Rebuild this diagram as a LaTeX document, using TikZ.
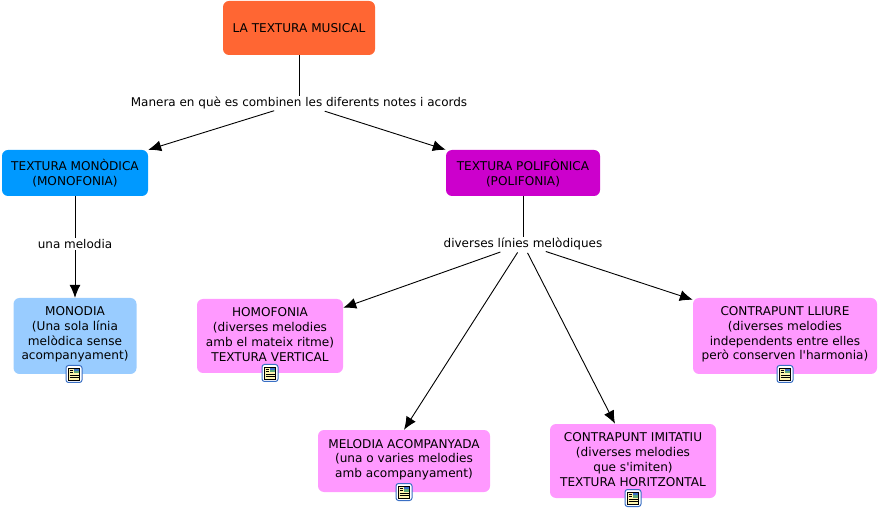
\documentclass[tikz,border=0pt]{standalone}
\usepackage{fontspec}
\setmainfont{DejaVu Sans}
\usetikzlibrary{arrows.meta}

\definecolor{rootorange}{HTML}{FF6633}
\definecolor{monoblue}{HTML}{0099FF}
\definecolor{poliviolet}{HTML}{CC00CC}
\definecolor{paleblue}{HTML}{99CCFF}
\definecolor{palepink}{HTML}{FF99FF}
\definecolor{iconblue}{HTML}{3A6FC4}
\definecolor{iconyellow}{HTML}{FFF6B0}
\definecolor{icongreen}{HTML}{5FA87A}

\newcommand{\lowstrut}[1]{\rule[-#1]{0pt}{#1}}

\begin{document}
\begin{tikzpicture}[x=1pt, y=-1pt,
    concept/.style={rounded corners=6pt, align=center, inner sep=0pt, font=\fontsize{12.1}{14.7}\selectfont},
    phrase/.style={fill=white, inner xsep=0pt, inner ysep=1pt, font=\fontsize{12}{14.7}\selectfont},
    link/.style={draw=black, line width=0.9pt},
    linkto/.style={link, -{Latex[length=13pt, width=11pt]}}]
    \useasboundingbox (0,0) rectangle (878,510);

    % Root
    \node[concept, fill=rootorange, minimum width=152pt, minimum height=54pt] (root) at (299,28) {LA TEXTURA MUSICAL};
    \node[phrase] (manera) at (299,103) {Manera en què es combinen les diferents notes i acords};

    % Textures
    \node[concept, fill=monoblue, minimum width=146pt, minimum height=46pt] (monodica) at (75,173) {TEXTURA MONÒDICA\\(MONOFONIA)};
    \node[concept, fill=poliviolet, minimum width=154pt, minimum height=46pt] (polifonica) at (523,173) {TEXTURA POLIFÒNICA\\(POLIFONIA)};
    \node[phrase] (unamelodia) at (75,244) {una melodia};
    \node[phrase] (diverses) at (523,244) {diverses línies melòdiques};

    % Leaves
    \node[concept, fill=paleblue, minimum width=123pt, minimum height=76pt] (monodia) at (75,336) {MONODIA\\(Una sola línia\\melòdica sense\\acompanyament)\lowstrut{5.5pt}};
    \node[concept, fill=palepink, minimum width=146pt, minimum height=74pt] (homofonia) at (270,336) {HOMOFONIA\\(diverses melodies\\amb el mateix ritme)\\TEXTURA VERTICAL\lowstrut{3pt}};
    \node[concept, fill=palepink, minimum width=172pt, minimum height=62pt] (acompanyada) at (404,461) {MELODIA ACOMPANYADA\\(una o varies melodies\\amb acompanyament)\lowstrut{5.5pt}};
    \node[concept, fill=palepink, minimum width=166pt, minimum height=74pt] (imitatiu) at (633,461) {CONTRAPUNT IMITATIU\\(diverses melodies\\que s\textquotesingle imiten)\\TEXTURA HORITZONTAL\lowstrut{3pt}};
    \node[concept, fill=palepink, minimum width=184pt, minimum height=76pt] (lliure) at (785,336) {CONTRAPUNT LLIURE\\(diverses melodies\\independents entre elles\\però conserven l\textquotesingle harmonia)\lowstrut{5.5pt}};

    % Connectors
    \draw[link] (root) -- (manera);
    \draw[linkto, shorten <=26pt] (manera.center) -- (monodica.north east);
    \draw[linkto, shorten <=27pt] (manera.center) -- (polifonica.north west);
    \draw[link] (monodica) -- (unamelodia);
    \draw[linkto] (unamelodia) -- (monodia);
    \draw[link] (polifonica) -- (diverses);
    \draw[linkto, shorten <=24pt] (diverses.center) -- ([yshift=-9pt]homofonia.north east);
    \draw[linkto, shorten <=10pt] (diverses.center) -- (acompanyada.north);
    \draw[linkto, shorten <=10pt] (diverses.center) -- ([xshift=-18pt]imitatiu.north);
    \draw[linkto, shorten <=24pt] (diverses.center) -- ([yshift=-2pt]lliure.north west);

    % Note icons
    \foreach \ix/\iy in {74/374, 270/373, 404/492, 633/498, 785/374} {
        \begin{scope}[shift={(\ix,\iy)}]
            \draw[draw=iconblue, fill=white, line width=1pt, rounded corners=2.5pt] (-8,-8.5) rectangle (8,8.5);
            \draw[draw=black, fill=iconyellow, line width=0.6pt] (-5.5,-6) rectangle (5.5,6);
            \fill[icongreen] (-0.5,-5) rectangle (4.5,-0.5);
            \fill[iconblue] (-0.5,-5) rectangle (4.5,-3);
            \draw[black, line width=0.5pt] (-4.5,-4) -- (-1.5,-4) (-4.5,-2) -- (-1.5,-2) (-4.5,1) -- (4.5,1) (-4.5,3) -- (4.5,3);
        \end{scope}
    }
\end{tikzpicture}
\end{document}
